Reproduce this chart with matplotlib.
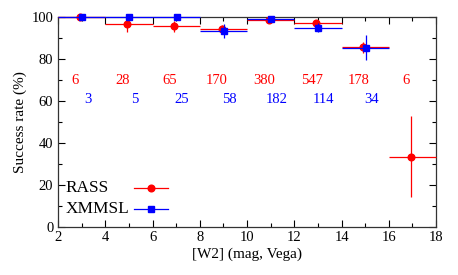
import numpy as np
import matplotlib.pyplot as plt
from matplotlib.lines import Line2D
from matplotlib.ticker import MultipleLocator

plt.rcParams['font.family'] = ['Liberation Serif', 'DejaVu Serif']
plt.rcParams['font.size'] = 10.5

# W2 magnitude bins
bin_lo = np.array([2, 4, 6, 8, 10, 12, 14, 16])
bin_hi = np.array([4, 6, 8, 10, 12, 14, 16, 18])

# RASS success rate per bin
rass_rate = [100, 96.4, 95.4, 94.1, 98.4, 96.9, 85.4, 33.3]
rass_err = [0, 3.5, 2.6, 1.8, 0.6, 0.7, 2.6, 19.2]
rass_n = ["6", "28", "65", "170", "380", "547", "178", "6"]

# XMMSL success rate per bin (no sources in last bin)
xmm_rate = [100, 100, 100, 93.1, 98.9, 94.7, 85.3]
xmm_err = [0, 0, 0, 3.3, 0.8, 2.1, 6.1]
xmm_n = ["3", "5", "25", "58", "182", "114", "34"]

red = "#ff0000"
blue = "#0000ff"

fig, ax = plt.subplots(figsize=(4.58, 2.75), dpi=100)
fig.subplots_adjust(left=0.127, right=0.952, bottom=0.176, top=0.939)

centers = (bin_lo + bin_hi) / 2.0

# RASS points, slightly shifted left
xr = centers - 0.08
ax.errorbar(xr, rass_rate, yerr=rass_err,
            xerr=[xr - bin_lo, bin_hi - xr],
            fmt='o', color=red, ms=4.8, elinewidth=0.9, capsize=0,
            clip_on=False, zorder=3)

# XMMSL points
nx = len(xmm_rate)
xb = centers[:nx] + 0.02
ax.errorbar(xb, xmm_rate, yerr=xmm_err,
            xerr=[xb - bin_lo[:nx], bin_hi[:nx] - xb],
            fmt='s', color=blue, ms=4.8, elinewidth=0.9, capsize=0,
            clip_on=False, zorder=4)

# source counts per bin
for c, t in zip(centers, rass_n):
    ax.text(c - 0.27, 69.5, t, color=red, ha='center', va='center')
for c, t in zip(centers[:nx], xmm_n):
    ax.text(c + 0.25, 60.8, t, color=blue, ha='center', va='center')

ax.set_xlim(2, 18)
ax.set_ylim(0, 100)
ax.xaxis.set_major_locator(MultipleLocator(2))
ax.xaxis.set_minor_locator(MultipleLocator(1))
ax.yaxis.set_major_locator(MultipleLocator(20))
ax.yaxis.set_minor_locator(MultipleLocator(10))
ax.tick_params(which='both', direction='in', top=True, right=True, width=0.8)
ax.tick_params(which='major', length=5)
ax.tick_params(which='minor', length=3)
for s in ax.spines.values():
    s.set_linewidth(0.9)
    s.set_color('#333333')

ax.set_xlabel("[W2] (mag, Vega)", labelpad=2, fontsize=11)
ax.set_ylabel("Success rate (%)", labelpad=3, fontsize=11)

# gnuplot-style key: label on the left, sample on the right
key = [("RASS", red, 'o', 0.183), ("XMMSL", blue, 's', 0.086)]
for label, col, mk, yk in key:
    ax.text(0.0185, yk, label, transform=ax.transAxes, ha='left',
            va='center', fontsize=12.4)
    ax.add_line(Line2D([0.202, 0.290], [yk, yk], transform=ax.transAxes,
                       color=col, lw=0.9, clip_on=False))
    ax.add_line(Line2D([0.245], [yk], transform=ax.transAxes, color=col,
                       marker=mk, ms=4.8, clip_on=False))

fig.savefig("out.png", dpi=100)
